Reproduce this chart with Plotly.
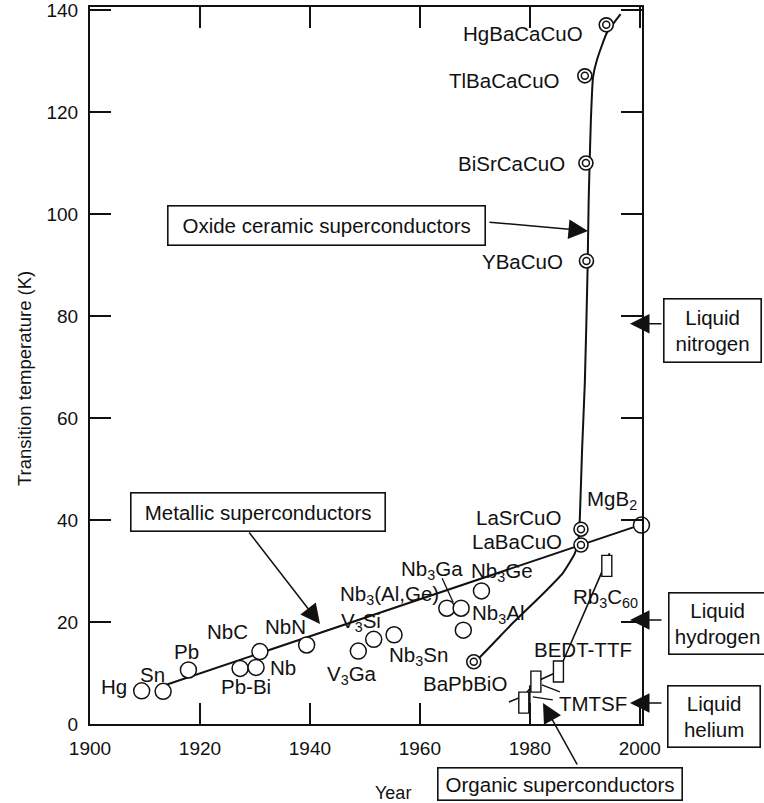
import plotly.graph_objects as go

# ---------------- data ----------------
# Metallic superconductors: discovery year and transition temperature (K)
metal_names = ["Hg", "Sn", "Pb", "Pb-Bi", "Nb", "NbC", "NbN",
               "V<sub>3</sub>Ga", "V<sub>3</sub>Si", "Nb<sub>3</sub>Sn",
               "Nb<sub>3</sub>(Al,Ge)", "Nb<sub>3</sub>Ga", "Nb<sub>3</sub>Al",
               "Nb<sub>3</sub>Ge", "MgB<sub>2</sub>"]
metal_year = [1909.4, 1913.3, 1917.9, 1927.3, 1930.2, 1930.9, 1939.4,
              1948.8, 1951.6, 1955.3, 1964.9, 1967.5, 1967.9, 1971.2, 2000.3]
metal_tc = [6.5, 6.4, 10.6, 10.9, 11.1, 14.2, 15.5,
            14.3, 16.6, 17.5, 22.7, 22.7, 18.4, 26.1, 39.0]

# Oxide ceramic superconductors
oxide_names = ["BaPbBiO", "LaBaCuO", "LaSrCuO", "YBaCuO",
               "BiSrCaCuO", "TlBaCaCuO", "HgBaCaCuO"]
oxide_year = [1969.8, 1989.3, 1989.3, 1990.3, 1990.2, 1990.0, 1993.9]
oxide_tc = [12.2, 35.1, 38.2, 90.8, 110.0, 127.1, 137.1]

# Organic superconductors (second entry is unlabelled)
organic_names = ["TMTSF", "", "BEDT-TTF", "Rb<sub>3</sub>C<sub>60</sub>"]
organic_year = [1978.9, 1981.1, 1985.2, 1994.0]
organic_tc = [4.2, 8.3, 10.3, 31.0]

# Trend curves drawn through each family
metal_trend_year = [1913.6, 2000.0]
metal_trend_tc = [7.6, 39.0]

oxide_trend_year = [1969.8, 1970.9, 1976.9, 1981.8, 1986.0, 1988.2, 1988.9,
                    1989.1, 1989.5, 1990.0, 1990.5, 1990.7, 1991.1, 1991.5,
                    1992.2, 1994.0, 1996.5]
oxide_trend_tc = [12.2, 13.1, 19.8, 24.9, 29.6, 33.5, 36.7,
                  40.6, 53.7, 66.9, 89.0, 102.7, 118.4, 126.9,
                  130.2, 135.5, 139.2]

organic_trend_year = [1976.2, 1978.9, 1981.1, 1985.2, 1986.0, 1989.1, 1992.7, 1994.5,
                      None, 1980.0, 1980.0]
organic_trend_tc = [4.3, 5.5, 8.3, 10.3, 12.2, 19.8, 28.8, 33.5,
                    None, 0.0, 7.6]

# Coolant boiling points marked on the right-hand side
coolant_names = ["Liquid<br>nitrogen", "Liquid<br>hydrogen", "Liquid<br>helium"]
coolant_tc = [78.5, 20.4, 4.1]

x_tick_vals = [1900, 1920, 1940, 1960, 1980, 2000]
y_tick_vals = [0, 20, 40, 60, 80, 100, 120, 140]

# ---------------- frame geometry & style ----------------
FIG_W, FIG_H = 764, 803
PLOT_L, PLOT_T, PLOT_R, PLOT_B = 90, 7, 642, 724
PLOT_W = PLOT_R - PLOT_L
PLOT_H = PLOT_B - PLOT_T
X_RANGE = [1900, 2000.4]
Y_RANGE = [0, 140.6]

FONT = "Liberation Sans, Arial, Helvetica, sans-serif"
INK = "#111111"
LABEL_SIZE = 20.5


def paper_x(px):
    return (px - PLOT_L) / PLOT_W


def paper_y(py):
    return (PLOT_B - py) / PLOT_H


def tc_to_paper(tc):
    return (tc - Y_RANGE[0]) / (Y_RANGE[1] - Y_RANGE[0])


# label offsets in pixels (dx right, dy up) from each marker
metal_label_offsets = [(-28, 4), (-11, 17), (-2, 18), (6, -18), (27, 0), (-32, 20),
                       (-21, 18), (-6, -24), (-13, 17), (24, -21), (-57, 13),
                       (-29, 38), (35, 16), (21, 19), (-29, 25)]
oxide_label_offsets = [(-9, -22), (-64, 4), (-62, 12), (-64, -1), (-74, 0), (-80, -5), (-83, -9)]
organic_label_offsets = [(69, -1), (0, 0), (25, 22), (-1, -32)]

fig = go.Figure()

fig.add_trace(go.Scatter(x=metal_trend_year, y=metal_trend_tc, mode="lines",
                         line=dict(color=INK, width=2), hoverinfo="skip"))
fig.add_trace(go.Scatter(x=oxide_trend_year, y=oxide_trend_tc, mode="lines",
                         line=dict(color=INK, width=2, shape="spline", smoothing=0.5),
                         hoverinfo="skip"))
fig.add_trace(go.Scatter(x=organic_trend_year, y=organic_trend_tc, mode="lines",
                         line=dict(color=INK, width=1.6), connectgaps=False,
                         hoverinfo="skip"))

# metallic: open circles
fig.add_trace(go.Scatter(x=metal_year, y=metal_tc, mode="markers", cliponaxis=False,
                         marker=dict(symbol="circle", size=16, color="white",
                                     line=dict(color=INK, width=1.5)),
                         hoverinfo="skip"))
# oxides: double rings
fig.add_trace(go.Scatter(x=oxide_year, y=oxide_tc, mode="markers", cliponaxis=False,
                         marker=dict(symbol="circle", size=14, color="white",
                                     line=dict(color=INK, width=1.6)),
                         hoverinfo="skip"))
fig.add_trace(go.Scatter(x=oxide_year, y=oxide_tc, mode="markers", cliponaxis=False,
                         marker=dict(symbol="circle-open", size=7, color=INK,
                                     line=dict(color=INK, width=1.5)),
                         hoverinfo="skip"))

shapes = []
# organic: upright rectangles centred on each value
for yr, tc in zip(organic_year, organic_tc):
    shapes.append(dict(type="rect", xref="x", yref="y", xsizemode="pixel", ysizemode="pixel",
                       xanchor=yr, yanchor=tc, x0=-5, x1=5, y0=-10.5, y1=10.5,
                       line=dict(color=INK, width=1.4), fillcolor="white", layer="above"))

# short leader lines from labels to marks
leaders = [
    (metal_year[11], metal_tc[11], (-19, 30), (-8, 6)),
    (organic_year[0], organic_tc[0], (9, 5.6), (29, 2.6)),
    (organic_year[1], organic_tc[1], (6, -3.3), (24, -10.3)),
]
for yr, tc, p0, p1 in leaders:
    shapes.append(dict(type="line", xref="x", yref="y", xsizemode="pixel", ysizemode="pixel",
                       xanchor=yr, yanchor=tc, x0=p0[0], y0=p0[1], x1=p1[0], y1=p1[1],
                       line=dict(color=INK, width=1.3), layer="above"))

annotations = []
label_font = dict(family=FONT, size=LABEL_SIZE, color=INK)

for names, years, tcs, offs in [
    (metal_names, metal_year, metal_tc, metal_label_offsets),
    (oxide_names, oxide_year, oxide_tc, oxide_label_offsets),
    (organic_names, organic_year, organic_tc, organic_label_offsets),
]:
    for name, yr, tc, (dx, dy) in zip(names, years, tcs, offs):
        if not name:
            continue
        annotations.append(dict(x=yr, y=tc, xref="x", yref="y", text=name, showarrow=False,
                                xshift=dx, yshift=dy, font=label_font,
                                xanchor="center", yanchor="middle"))


def boxed(text, cx, cy, w, h):
    return dict(x=paper_x(cx), y=paper_y(cy), xref="paper", yref="paper", text=text,
                showarrow=False, xanchor="center", yanchor="middle",
                width=w, height=h, borderpad=0, bordercolor=INK, borderwidth=1.6,
                bgcolor="white", font=label_font, align="center")


ARROW = dict(arrowhead=2, arrowsize=2.6, arrowwidth=1.5, arrowcolor=INK,
             standoff=0, startstandoff=0)


def arrow_px(tail, tip):
    return dict(x=paper_x(tip[0]), y=paper_y(tip[1]), xref="paper", yref="paper",
                ax=tail[0] - tip[0], ay=tail[1] - tip[1], axref="pixel", ayref="pixel",
                text="", showarrow=True, **ARROW)


annotations += [
    boxed("Oxide ceramic superconductors", 326, 225, 316, 38),
    arrow_px((488, 222), (588, 231)),
    boxed("Metallic superconductors", 257.5, 511.5, 253, 37),
    arrow_px((248, 531), (320, 624)),
    boxed("Organic superconductors", 559.5, 783.5, 243, 31),
    arrow_px((578, 766), (543, 703)),
]

# coolant boxes with arrows pointing at their boiling points
coolant_box = [(712, 7, 96, 62), (717, 4, 96, 60), (713.5, 13, 91, 60)]
tip_year = X_RANGE[0] + (630 - PLOT_L) / PLOT_W * (X_RANGE[1] - X_RANGE[0])
for name, tc, (cx, dy, w, h) in zip(coolant_names, coolant_tc, coolant_box):
    annotations.append(dict(x=tip_year, y=tc, xref="x", yref="y", ax=33, ay=0,
                            axref="pixel", ayref="pixel", text="", showarrow=True, **ARROW))
    box_y = PLOT_B - tc_to_paper(tc) * PLOT_H + dy
    annotations.append(boxed(name, cx, box_y, w, h))

# axis titles
annotations.append(dict(x=paper_x(393), y=paper_y(793), xref="paper", yref="paper",
                        text="Year", showarrow=False, xanchor="center", yanchor="middle",
                        font=dict(family=FONT, size=18, color=INK)))
annotations.append(dict(x=paper_x(24), y=paper_y(379), xref="paper", yref="paper",
                        text="Transition temperature (K)", showarrow=False, textangle=-90,
                        xanchor="center", yanchor="middle",
                        font=dict(family=FONT, size=18.5, color=INK)))

axis_common = dict(showline=True, linecolor=INK, linewidth=2, mirror="ticks",
                   ticks="inside", ticklen=21, tickwidth=1.8, tickcolor=INK,
                   showgrid=False, zeroline=False, ticklabeloverflow="allow",
                   tickfont=dict(family=FONT, size=19, color=INK))

fig.update_layout(
    width=FIG_W, height=FIG_H,
    margin=dict(l=PLOT_L, r=FIG_W - PLOT_R, t=PLOT_T, b=FIG_H - PLOT_B, autoexpand=False),
    paper_bgcolor="white", plot_bgcolor="white",
    showlegend=False,
    xaxis=dict(range=X_RANGE, tickvals=x_tick_vals, ticklabelstandoff=6, **axis_common),
    yaxis=dict(range=Y_RANGE, tickvals=y_tick_vals, ticklabelstandoff=6, **axis_common),
    shapes=shapes,
    annotations=annotations,
    font=dict(family=FONT, color=INK),
)

fig.write_html("out.html", config={"displayModeBar": False})
